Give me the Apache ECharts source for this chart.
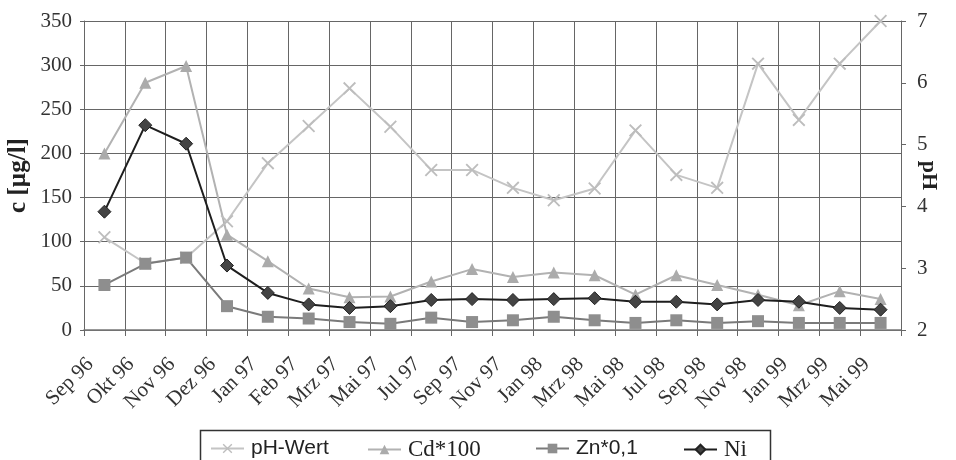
<!DOCTYPE html>
<html>
<head>
<meta charset="utf-8">
<script src="https://cdn.jsdelivr.net/npm/echarts@6/dist/echarts.min.js"></script>
<style>html,body{margin:0;padding:0;background:#fff}#c{width:956px;height:460px}</style>
</head>
<body>
<div id="c"></div>
<script>
const categories = ['Sep 96','Okt 96','Nov 96','Dez 96','Jan 97','Feb 97','Mrz 97','Mai 97','Jul 97','Sep 97','Nov 97','Jan 98','Mrz 98','Mai 98','Jul 98','Sep 98','Nov 98','Jan 99','Mrz 99','Mai 99'];
const phWert = [3.50,3.08,3.17,3.76,4.70,5.30,5.91,5.29,4.59,4.59,4.30,4.10,4.29,5.23,4.51,4.30,6.31,5.40,6.31,7.00];
const cd100 = [200,280,299,108,78,47,37,38,55,69,60,65,62,40,62,51,40,28,44,35];
const zn01 = [51,75,82,27,15,13,9,7,14,9,11,15,11,8,11,8,10,8,8,8];
const ni = [134,232,211,73,42,29,25,27,34,35,34,35,36,32,32,29,34,32,25,23];
const seriesNames = ['pH-Wert','Cd*100','Zn*0,1','Ni'];
const leftTicks = {min:0, max:350, interval:50};
const rightTicks = {min:2, max:7, interval:1};

const serif = 'Liberation Serif';
const sans = 'Liberation Sans';
const xPath = 'path://M0,1 L1,0 L5,4 L9,0 L10,1 L6,5 L10,9 L9,10 L5,6 L1,10 L0,9 L4,5 Z';
const legendLeft = [210, 367, 535, 683];
const legendFont = [[sans,21],[serif,23],[sans,21],[serif,23]];

const legends = seriesNames.map(function(n, i){
  return {
    left: legendLeft[i], top: 438, padding: 0,
    itemWidth: 33, itemHeight: 12,
    data: [n],
    textStyle: {fontFamily: legendFont[i][0], fontSize: legendFont[i][1], color: '#222', padding:[0,0,0,2]}
  };
});

const chart = echarts.init(document.getElementById('c'));
chart.setOption({
  animation:false,
  backgroundColor:'#fff',
  grid:{left:84,right:55,top:21,bottom:130,containLabel:false,outerBoundsMode:'none'},
  legend: legends,
  graphic:[{type:'rect', left:198, top:428, shape:{width:570, height:40},
    style:{fill:'none', stroke:'#333', lineWidth:1.5}, silent:true}],
  xAxis:{
    type:'category', data:categories, boundaryGap:true,
    axisLine:{lineStyle:{color:'#777',width:1.5}},
    axisTick:{show:true,length:6,lineStyle:{color:'#666'}},
    splitLine:{show:true,lineStyle:{color:'#666',width:1}},
    axisLabel:{rotate:45,interval:0,fontFamily:serif,fontSize:21,color:'#333',margin:17,padding:[0,20,0,0]}
  },
  yAxis:[
    {type:'value', min:leftTicks.min, max:leftTicks.max, interval:leftTicks.interval,
     name:'c [µg/l]', nameLocation:'middle', nameGap:53, nameMoveOverlap:false,
     nameTextStyle:{fontFamily:serif,fontWeight:'bold',fontSize:25,color:'#222'},
     axisLine:{show:true,lineStyle:{color:'#666'}},
     axisTick:{show:true,length:4,lineStyle:{color:'#666'}},
     splitLine:{show:true,lineStyle:{color:'#666',width:1}},
     axisLabel:{fontFamily:serif,fontSize:21,color:'#333',margin:12}},
    {type:'value', position:'right', min:rightTicks.min, max:rightTicks.max, interval:rightTicks.interval,
     name:'pH', nameLocation:'middle', nameGap:17, nameRotate:-90, nameMoveOverlap:false,
     nameTextStyle:{fontFamily:serif,fontWeight:'bold',fontSize:22,color:'#222'},
     axisLine:{show:true,lineStyle:{color:'#666'}},
     axisTick:{show:true,length:5,lineStyle:{color:'#666'}},
     splitLine:{show:false},
     axisLabel:{fontFamily:serif,fontSize:21,color:'#333',margin:16}}
  ],
  series:[
    {name:seriesNames[0],type:'line',yAxisIndex:1,data:phWert,symbol:xPath,symbolSize:13,
     lineStyle:{color:'#c4c4c4',width:2},itemStyle:{color:'#bdbdbd'}},
    {name:seriesNames[1],type:'line',data:cd100,symbol:'triangle',symbolSize:12,
     lineStyle:{color:'#b2b2b2',width:2},itemStyle:{color:'#ababab'}},
    {name:seriesNames[2],type:'line',data:zn01,symbol:'rect',symbolSize:12,
     lineStyle:{color:'#7a7a7a',width:2},itemStyle:{color:'#8e8e8e'}},
    {name:seriesNames[3],type:'line',data:ni,symbol:'diamond',symbolSize:13,
     lineStyle:{color:'#1e1e1e',width:2},itemStyle:{color:'#444',borderColor:'#222',borderWidth:1}}
  ]
});
</script>
</body>
</html>
